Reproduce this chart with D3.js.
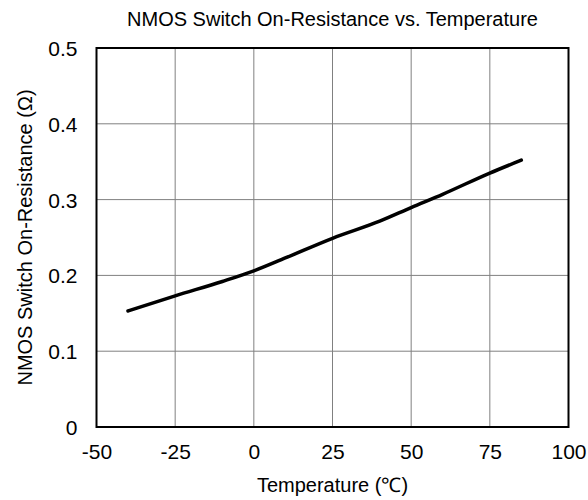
<!DOCTYPE html>
<html>
<head>
<meta charset="utf-8">
<script src="https://cdn.jsdelivr.net/npm/d3@7"></script>
<style>
  body { margin: 0; background: #fff; }
  svg { display: block; font-family: "Liberation Sans", Arial, sans-serif; }
</style>
</head>
<body>
<svg id="chart" width="588" height="500"></svg>
<script>
const temperatures = [-40, -25, -10, 0, 10, 25, 40, 50, 60, 75, 85];
const resistance = [0.153, 0.173, 0.192, 0.206, 0.223, 0.249, 0.2715, 0.2895, 0.307, 0.335, 0.352];
const xTicks = [-50, -25, 0, 25, 50, 75, 100];
const xTickLabels = ["-50", "-25", "0", "25", "50", "75", "100"];
const yTicks = [0, 0.1, 0.2, 0.3, 0.4, 0.5];
const yTickLabels = ["0", "0.1", "0.2", "0.3", "0.4", "0.5"];
const title = "NMOS Switch On-Resistance vs. Temperature";
const xTitle = "Temperature (℃)";
const yTitle = "NMOS Switch On-Resistance (Ω)";

const svg = d3.select("#chart");
const m = { left: 96.5, right: 568.5, top: 48, bottom: 427 };
const x = d3.scaleLinear().domain([-50, 100]).range([m.left, m.right]);
const y = d3.scaleLinear().domain([0, 0.5]).range([m.bottom, m.top]);

// gridlines
svg.append("g").selectAll("line").data(xTicks.slice(1, -1)).join("line")
  .attr("x1", d => x(d)).attr("x2", d => x(d))
  .attr("y1", m.top).attr("y2", m.bottom)
  .attr("stroke", "#808080").attr("stroke-width", 1);
svg.append("g").selectAll("line").data(yTicks.slice(1, -1)).join("line")
  .attr("y1", d => y(d)).attr("y2", d => y(d))
  .attr("x1", m.left).attr("x2", m.right)
  .attr("stroke", "#808080").attr("stroke-width", 1);

// frame
svg.append("rect")
  .attr("x", m.left).attr("y", m.top)
  .attr("width", m.right - m.left).attr("height", m.bottom - m.top)
  .attr("fill", "none").attr("stroke", "#000").attr("stroke-width", 2);

// axes labels
const xAxis = d3.axisBottom(x).tickValues(xTicks).tickSize(0).tickPadding(0)
  .tickFormat((d, i) => xTickLabels[i]);
const gx = svg.append("g").attr("transform", `translate(0,${m.bottom})`).call(xAxis);
gx.select(".domain").remove();
gx.selectAll("text").attr("dy", null).attr("y", 32).attr("font-size", 21)
  .attr("font-family", "Liberation Sans, Arial, sans-serif").attr("fill", "#000");

const yAxis = d3.axisLeft(y).tickValues(yTicks).tickSize(0).tickPadding(0)
  .tickFormat((d, i) => yTickLabels[i]);
const gy = svg.append("g").attr("transform", `translate(${m.left},0)`).call(yAxis);
gy.select(".domain").remove();
gy.selectAll("text").attr("dy", "0.36em").attr("x", -19).attr("font-size", 21)
  .attr("font-family", "Liberation Sans, Arial, sans-serif").attr("fill", "#000");

// line
const line = d3.line().x((d, i) => x(temperatures[i])).y(d => y(d)).curve(d3.curveMonotoneX);
svg.append("path").datum(resistance)
  .attr("d", line).attr("fill", "none").attr("stroke", "#000")
  .attr("stroke-width", 3.5).attr("stroke-linecap", "round").attr("stroke-linejoin", "round");

// titles
svg.append("text").attr("x", (m.left + m.right) / 2).attr("y", 26)
  .attr("text-anchor", "middle").attr("font-size", 20).text(title);
svg.append("text").attr("x", (m.left + m.right) / 2).attr("y", 492)
  .attr("text-anchor", "middle").attr("font-size", 20).text(xTitle);
svg.append("text").attr("transform", `translate(32,${(m.top + m.bottom) / 2}) rotate(-90)`)
  .attr("text-anchor", "middle").attr("font-size", 20).text(yTitle);
</script>
</body>
</html>
